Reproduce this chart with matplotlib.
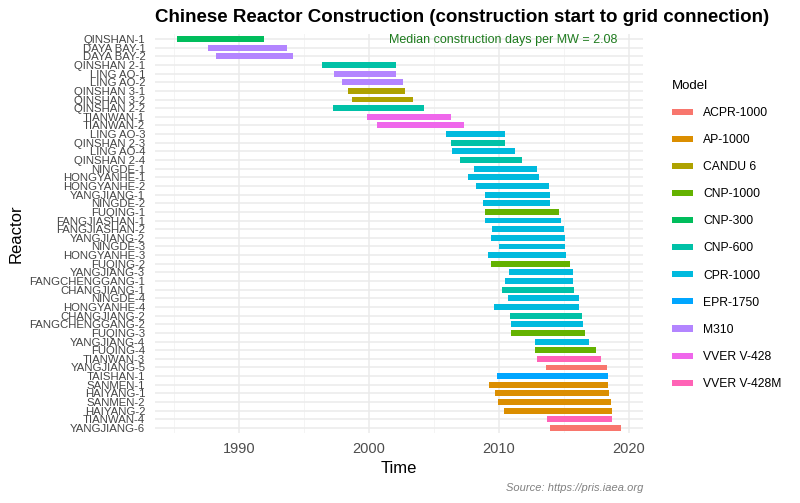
import matplotlib
matplotlib.use("Agg")
import matplotlib.pyplot as plt
from matplotlib import font_manager
from matplotlib.patches import Patch
from matplotlib.ticker import MultipleLocator

reactors = [
    "QINSHAN-1", "DAYA BAY-1", "DAYA BAY-2", "QINSHAN 2-1", "LING AO-1",
    "LING AO-2", "QINSHAN 3-1", "QINSHAN 3-2", "QINSHAN 2-2", "TIANWAN-1",
    "TIANWAN-2", "LING AO-3", "QINSHAN 2-3", "LING AO-4", "QINSHAN 2-4",
    "NINGDE-1", "HONGYANHE-1", "HONGYANHE-2", "YANGJIANG-1", "NINGDE-2",
    "FUQING-1", "FANGJIASHAN-1", "FANGJIASHAN-2", "YANGJIANG-2", "NINGDE-3",
    "HONGYANHE-3", "FUQING-2", "YANGJIANG-3", "FANGCHENGGANG-1", "CHANGJIANG-1",
    "NINGDE-4", "HONGYANHE-4", "CHANGJIANG-2", "FANGCHENGGANG-2", "FUQING-3",
    "YANGJIANG-4", "FUQING-4", "TIANWAN-3", "YANGJIANG-5", "TAISHAN-1",
    "SANMEN-1", "HAIYANG-1", "SANMEN-2", "HAIYANG-2", "TIANWAN-4",
    "YANGJIANG-6",
]
models = [
    "CNP-300", "M310", "M310", "CNP-600", "M310",
    "M310", "CANDU 6", "CANDU 6", "CNP-600", "VVER V-428",
    "VVER V-428", "CPR-1000", "CNP-600", "CPR-1000", "CNP-600",
    "CPR-1000", "CPR-1000", "CPR-1000", "CPR-1000", "CPR-1000",
    "CNP-1000", "CPR-1000", "CPR-1000", "CPR-1000", "CPR-1000",
    "CPR-1000", "CNP-1000", "CPR-1000", "CPR-1000", "CNP-600",
    "CPR-1000", "CPR-1000", "CNP-600", "CPR-1000", "CNP-1000",
    "CPR-1000", "CNP-1000", "VVER V-428M", "ACPR-1000", "EPR-1750",
    "AP-1000", "AP-1000", "AP-1000", "AP-1000", "VVER V-428M",
    "ACPR-1000",
]
# construction start / grid connection, decimal years
start = [
    1985.2, 1987.6, 1988.2, 1996.4, 1997.3,
    1997.9, 1998.4, 1998.7, 1997.2, 1999.8,
    2000.6, 2005.9, 2006.3, 2006.4, 2007.0,
    2008.1, 2007.6, 2008.2, 2008.9, 2008.8,
    2008.9, 2008.95, 2009.5, 2009.4, 2010.0,
    2009.15, 2009.4, 2010.8, 2010.5, 2010.25,
    2010.7, 2009.6, 2010.85, 2010.9, 2010.95,
    2012.8, 2012.8, 2012.9, 2013.65, 2009.85,
    2009.25, 2009.7, 2009.9, 2010.4, 2013.7,
    2013.9,
]
end = [
    1991.9, 1993.7, 1994.1, 2002.05, 2002.1,
    2002.6, 2002.8, 2003.4, 2004.2, 2006.3,
    2007.3, 2010.5, 2010.5, 2011.25, 2011.8,
    2012.9, 2013.1, 2013.85, 2013.95, 2013.95,
    2014.6, 2014.8, 2015.0, 2015.1, 2015.1,
    2015.15, 2015.5, 2015.7, 2015.7, 2015.77,
    2016.2, 2016.2, 2016.4, 2016.5, 2016.6,
    2016.95, 2017.5, 2017.9, 2018.3, 2018.4,
    2018.4, 2018.5, 2018.6, 2018.7, 2018.75,
    2019.4,
]
model_levels = [
    "ACPR-1000", "AP-1000", "CANDU 6", "CNP-1000", "CNP-300", "CNP-600",
    "CPR-1000", "EPR-1750", "M310", "VVER V-428", "VVER V-428M",
]
palette = [
    "#F8766D", "#DB8E00", "#AEA200", "#64B200", "#00BD5C", "#00C1A7",
    "#00BADE", "#00A6FF", "#B385FF", "#EF67EB", "#FF63B6",
]
colors = dict(zip(model_levels, palette))

plt.rcParams["font.family"] = ["Liberation Sans", "DejaVu Sans"]


def has_font(name):
    try:
        font_manager.findfont(name, fallback_to_default=False)
        return True
    except ValueError:
        return False


narrow = has_font("Liberation Sans Narrow")
ytick_family = "Liberation Sans Narrow" if narrow else "Liberation Sans"
ytick_size = 9.8 if narrow else 8.2

fig = plt.figure(figsize=(8, 5.03), dpi=100)
ax = fig.add_axes([155 / 800, 1 - 433.2 / 503, (643 - 155) / 800, (433.2 - 33.8) / 503])

ypos = list(range(len(reactors)))
widths = [e - s for s, e in zip(start, end)]
ax.barh(ypos, widths, left=start, height=0.68,
        color=[colors[m] for m in models], zorder=3)

ax.set_xlim(1983.5, 2021.1)
ax.set_ylim(len(reactors) - 0.4, -0.6)
ax.xaxis.set_major_locator(MultipleLocator(10))
ax.xaxis.set_minor_locator(MultipleLocator(5))
ax.set_yticks(ypos)
ax.set_yticklabels(reactors, family=ytick_family, fontsize=ytick_size, color="#444444")
ax.tick_params(axis="x", which="both", length=0, labelsize=10.5, labelcolor="#4D4D4D", pad=6)
ax.tick_params(axis="y", length=0, pad=7)
ax.grid(which="major", color="#EBEBEB", linewidth=1.1, zorder=0)
ax.grid(which="minor", axis="x", color="#F2F2F2", linewidth=0.6, zorder=0)
for sp in ax.spines.values():
    sp.set_visible(False)

ax.set_xlabel("Time", fontsize=12, labelpad=4)
ax.set_ylabel("Reactor", fontsize=12, labelpad=4)

ax.text(2010.3, 0.15, "Median construction days per MW = 2.08",
        color="#1E7B1E", fontsize=9.0, ha="center", va="center", zorder=4)

fig.text(155 / 800, 1 - 17 / 503,
         "Chinese Reactor Construction (construction start to grid connection)",
         fontsize=13.5, fontweight="bold", ha="left", va="center")
fig.text(643 / 800, 1 - 488 / 503, "Source: https://pris.iaea.org",
         fontsize=8, style="italic", color="#808080", ha="right", va="center")

handles = [Patch(facecolor=colors[m], edgecolor="none", label=m) for m in model_levels]
leg = fig.legend(handles=handles, title="Model", loc="upper left",
                 bbox_to_anchor=(667 / 800, 1 - 75 / 503), frameon=False,
                 fontsize=8.7, title_fontsize=9.5, labelspacing=1.25,
                 handlelength=1.75, handleheight=0.4, handletextpad=0.85,
                 borderaxespad=0)
leg._legend_box.align = "left"

fig.savefig("out.png", dpi=100)
